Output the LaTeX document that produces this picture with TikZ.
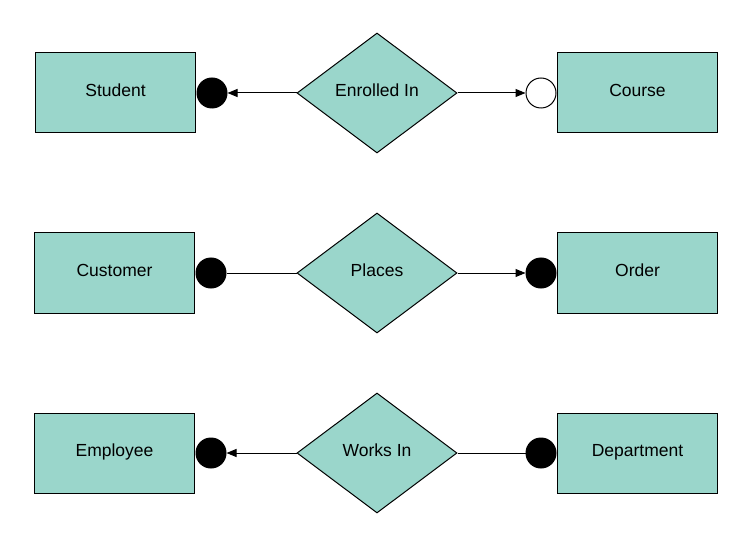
\documentclass[tikz,border=0pt]{standalone}
\usepackage{fontspec}
\setmainfont{Liberation Sans}
\usetikzlibrary{shapes.geometric,positioning,arrows.meta}
\definecolor{erteal}{RGB}{154,214,203}
\tikzset{every node/.style={align=center}, >={Triangle[length=10pt,width=8pt]}, font=\fontsize{17.5}{21}\selectfont}
\tikzset{entity/.style={draw, fill=erteal, minimum width=160pt, minimum height=80pt, inner sep=0pt, text height=12.5pt, text depth=6pt},
    relation/.style={diamond, draw, fill=erteal, minimum width=160pt, minimum height=120pt, inner sep=0pt, text height=12.5pt, text depth=6pt},
    card/.style={circle, draw, fill=black, minimum size=30pt, inner sep=0pt},
    cardopen/.style={card, fill=white}}

\begin{document}
\begin{tikzpicture}[x=1pt, y=-1pt, line width=1pt, node distance=0.5pt]
            \useasboundingbox (0,0) rectangle (754,545);
            % row 1
            \node [relation] (enrolled) at (377,93) {Enrolled In};
            \node [card] (stuc) at (212,93) {};
            \node [cardopen] (crsc) at (541,93) {};
            \node [entity] (student) [left=of stuc] {Student};
            \node [entity] (course) [right=of crsc] {Course};
            % row 2
            \node [relation] (places) at (377,273) {Places};
            \node [card] (custc) at (211,273) {};
            \node [card] (ordc) at (541,273) {};
            \node [entity] (customer) [left=of custc] {Customer};
            \node [entity] (order) [right=of ordc] {Order};
            % row 3
            \node [relation] (works) at (377,453) {Works In};
            \node [card] (empc) at (211,453) {};
            \node [card] (depc) at (541,453) {};
            \node [entity] (employee) [left=of empc] {Employee};
            \node [entity] (department) [right=of depc] {Department};
            \path[->] (enrolled) edge (stuc)
                    edge (crsc)
                (places) edge [-] (custc)
                    edge (ordc)
                (works) edge (empc)
                    edge [-] (depc);
        \end{tikzpicture}
\end{document}
